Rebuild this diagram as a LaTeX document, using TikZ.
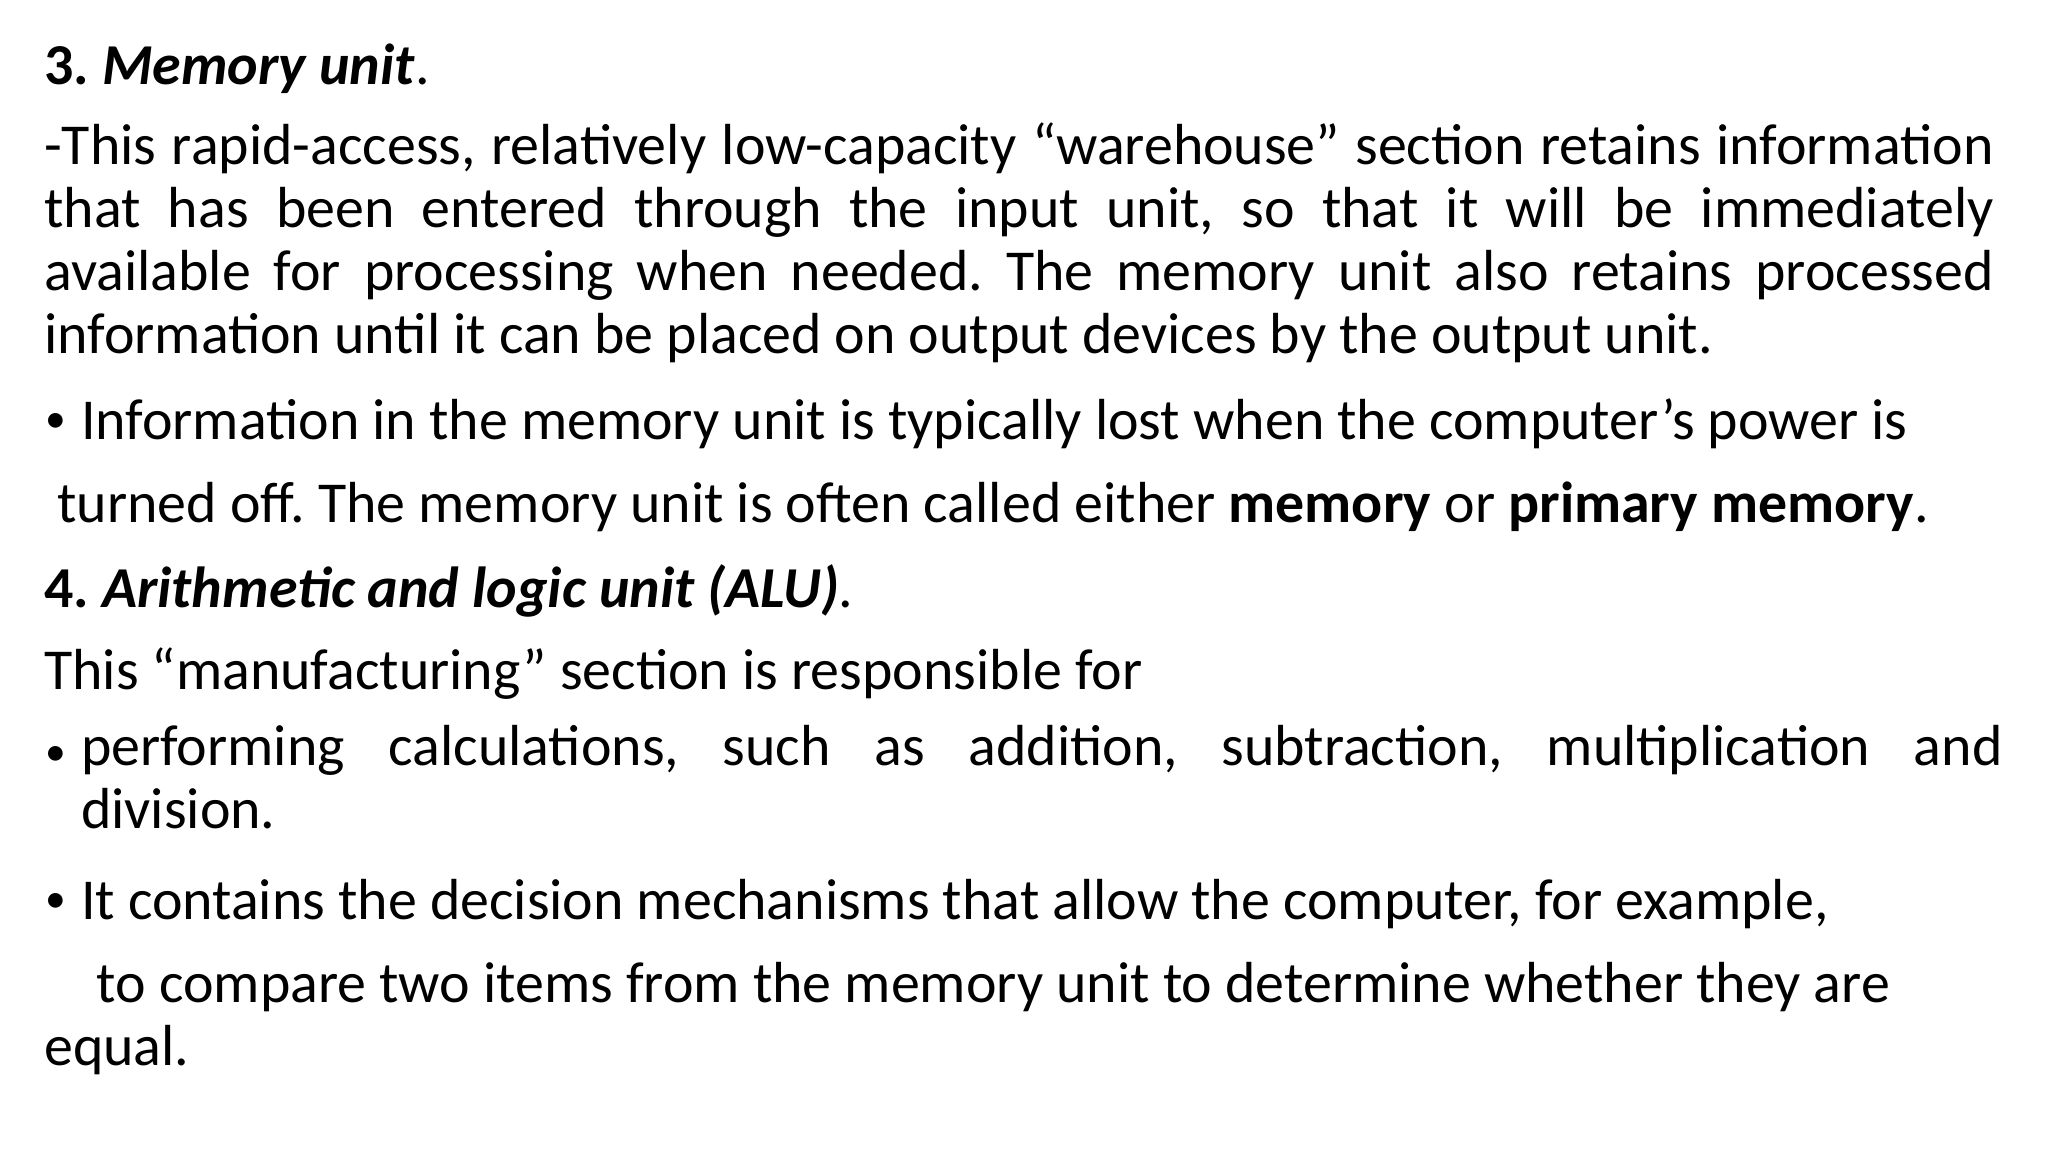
\documentclass[tikz,border=0pt]{standalone}
\usepackage{fontspec}
\setmainfont{Carlito}
\usetikzlibrary{positioning}
\tikzset{
  txt/.style={anchor=west,inner sep=0pt,font=\fontsize{12.55pt}{13.66pt}\selectfont\frenchspacing},
  par/.style={txt,text width=14.85cm,align=justify},
  dot/.style={txt,font=\fontsize{9pt}{11pt}\selectfont}
}
\begin{document}
\begin{tikzpicture}[x=1cm,y=-1cm]
\useasboundingbox (0,0) rectangle (15.6,8.775);
\node[txt] (h3) at (0.33,0.52) {\textbf{3. \textit{Memory unit}}.};
\node[par,anchor=north west] (p1) at (0.33,0.93) {-This rapid-access, relatively low-capacity “warehouse” section retains information\linebreak
that has been entered through the input unit, so that it will be immediately\linebreak
available for processing when needed. The memory unit also retains processed\linebreak
information until it can be placed on output devices by the output unit.};
\node[dot] (d1) at (0.34,3.22) {•};
\node[txt] (b1) at (0.61,3.23) {Information in the memory unit is typically lost when the computer’s power is};
\node[txt] (b1b) at (0.43,3.86) {turned off. The memory unit is often called either \textbf{memory} or \textbf{primary memory}.};
\node[txt] (h4) at (0.33,4.50) {\textbf{4. \textit{Arithmetic and logic unit (ALU)}}.};
\node[txt] (p2) at (0.33,5.13) {This “manufacturing” section is responsible for};
\node[dot] (d2) at (0.34,5.76) {•};
\node[par,text width=14.64cm,anchor=north west] (b2) at (0.61,5.52) {performing calculations, such as addition, subtraction, multiplication and\linebreak
division.};
\node[dot] (d3) at (0.34,6.88) {•};
\node[txt] (b3) at (0.61,6.89) {It contains the decision mechanisms that allow the computer, for example,};
\node[txt] (b3b) at (0.73,7.52) {to compare two items from the memory unit to determine whether they are};
\node[txt] (b3c) at (0.33,8.00) {equal.};
\end{tikzpicture}
\end{document}
